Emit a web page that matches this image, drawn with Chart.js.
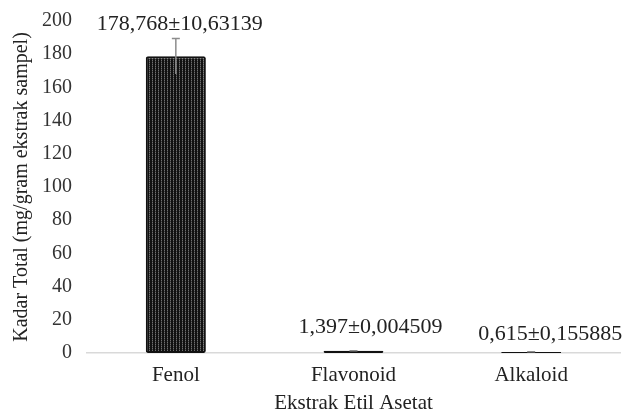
<!DOCTYPE html>
<html>
<head>
<meta charset="utf-8">
<script src="https://cdn.jsdelivr.net/npm/chart.js@4/dist/chart.umd.min.js"></script>
<style>
  html, body { margin: 0; padding: 0; background: #fff; }
  #wrap { width: 625px; height: 416px; }
</style>
</head>
<body>
<div id="wrap"><canvas id="chart" width="625" height="416"></canvas></div>
<script>
const categories = ['Fenol', 'Flavonoid', 'Alkaloid'];
const values = [178.768, 1.397, 0.615];
const errors = [10.63139, 0.004509, 0.155885];
const valueLabels = ['178,768\u00b110,63139', '1,397\u00b10,004509', '0,615\u00b10,155885'];
const yTicks = [0, 20, 40, 60, 80, 100, 120, 140, 160, 180, 200];

const FONT = "'Liberation Serif', 'Times New Roman', serif";
// label nudges (px) relative to the error bar top, like Excel placed them
const LABEL_DX = [4, 17, 19];
const LABEL_DY = [14, 23, 18];

// dark bar fill with faint vertical stripes
function barPattern() {
  const c = document.createElement('canvas');
  c.width = 3; c.height = 2;
  const g = c.getContext('2d');
  g.fillStyle = '#111';
  g.fillRect(0, 0, 3, 2);
  g.fillStyle = '#707070';
  g.fillRect(2, 0, 1, 1);
  g.fillStyle = '#3a3a3a';
  g.fillRect(2, 1, 1, 1);
  return g.createPattern(c, 'repeat');
}

const errorBars = {
  id: 'errorBars',
  afterDatasetsDraw(chart) {
    const ctx = chart.ctx;
    const y = chart.scales.y;
    const meta = chart.getDatasetMeta(0);
    ctx.save();
    meta.data.forEach((bar, i) => {
      const top = y.getPixelForValue(values[i] + errors[i]);
      const bot = y.getPixelForValue(Math.max(0, values[i] - errors[i]));
      ctx.strokeStyle = '#8c8c8c';
      ctx.lineWidth = 1.5;
      ctx.beginPath();
      ctx.moveTo(bar.x, bot);
      ctx.lineTo(bar.x, top);
      ctx.moveTo(bar.x - 4, top);
      ctx.lineTo(bar.x + 4, top);
      ctx.stroke();

      ctx.fillStyle = '#222';
      ctx.font = '22px ' + FONT;
      ctx.textAlign = 'center';
      ctx.textBaseline = 'middle';
      ctx.fillText(valueLabels[i], bar.x + LABEL_DX[i], top - LABEL_DY[i]);
    });
    ctx.restore();
  }
};

new Chart(document.getElementById('chart').getContext('2d'), {
  type: 'bar',
  data: {
    labels: categories,
    datasets: [{
      data: values,
      backgroundColor: barPattern(),
      borderColor: '#111',
      borderWidth: 2,
      borderSkipped: false,
      borderRadius: 2,
      barPercentage: 0.338,
      categoryPercentage: 1.0,
    }],
  },
  options: {
    responsive: false,
    animation: false,
    layout: { padding: { top: 21, right: 5, left: 10, bottom: 0 } },
    plugins: { legend: { display: false }, tooltip: { enabled: false } },
    scales: {
      x: {
        afterFit(axis) { axis.height = 63; },
        grid: { display: false, drawTicks: false },
        border: { color: '#d9d9d9', width: 1.5 },
        ticks: { color: '#222', font: { family: FONT, size: 21 }, padding: 10 },
        title: { display: true, text: 'Ekstrak Etil Asetat', color: '#222', font: { family: FONT, size: 21 }, padding: { top: 3, bottom: 0 } },
      },
      y: {
        min: 0,
        max: 200,
        afterFit(axis) { axis.width = 77; axis.paddingTop = 0; axis.paddingBottom = 0; },
        afterBuildTicks(axis) { axis.ticks = yTicks.map(v => ({ value: v })); },
        grid: { display: false, drawTicks: false },
        border: { display: false },
        ticks: { color: '#333', font: { family: FONT, size: 20 }, padding: 15 },
        title: { display: true, text: 'Kadar Total (mg/gram ekstrak sampel)', color: '#222', font: { family: FONT, size: 20 }, padding: { top: 0, bottom: 8 } },
      },
    },
  },
  plugins: [errorBars],
});
</script>
</body>
</html>
